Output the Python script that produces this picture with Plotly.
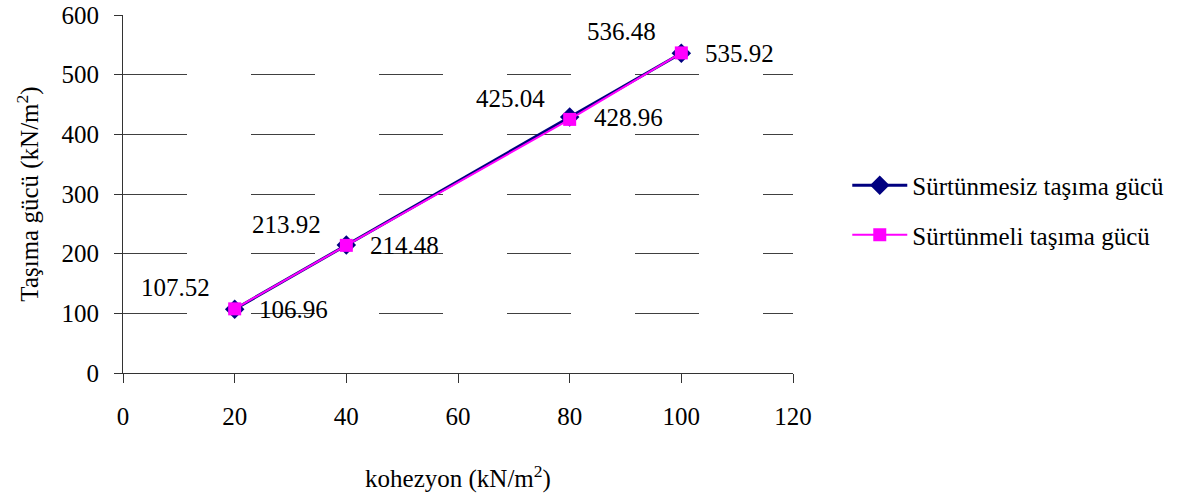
import plotly.graph_objects as go

# Cohesion values (kN/m2)
kohezyon = [20, 40, 80, 100]
# Bearing capacity without friction (kN/m2)
surtunmesiz = [106.96, 214.48, 428.96, 535.92]
# Bearing capacity with friction (kN/m2)
surtunmeli = [107.52, 213.92, 425.04, 536.48]

x_ticks = [0, 20, 40, 60, 80, 100, 120]
y_ticks = [0, 100, 200, 300, 400, 500, 600]

FONT = "Liberation Serif"
NAVY = "#000080"
MAGENTA = "#FF00FF"

fig = go.Figure()

fig.add_trace(go.Scatter(
    x=kohezyon, y=surtunmesiz, mode="lines+markers",
    name="Sürtünmesiz taşıma gücü", legendgroup="a",
    line=dict(color=NAVY, width=3),
    marker=dict(symbol="diamond", size=15, color=NAVY),
))
fig.add_trace(go.Scatter(
    x=kohezyon, y=surtunmeli, mode="lines+markers",
    name="Sürtünmeli taşıma gücü", legendgroup="b",
    line=dict(color=MAGENTA, width=2),
    marker=dict(symbol="square", size=13, color=MAGENTA),
))

# value labels: frictionless to the right, with friction up-left
for xv, yv in zip(kohezyon, surtunmesiz):
    fig.add_annotation(x=xv, y=yv, text=f"{yv:.2f}", showarrow=False,
                       xanchor="left", yanchor="middle", xshift=22, yshift=0,
                       font=dict(family=FONT, size=25, color="black"))
for xv, yv in zip(kohezyon, surtunmeli):
    fig.add_annotation(x=xv, y=yv, text=f"{yv:.2f}", showarrow=False,
                       xanchor="right", yanchor="middle", xshift=-23, yshift=21,
                       font=dict(family=FONT, size=25, color="black"))

fig.update_layout(
    width=1200, height=499,
    margin=dict(l=123, r=407, t=15, b=126, autoexpand=False),
    paper_bgcolor="white", plot_bgcolor="white",
    font=dict(family=FONT, size=25, color="black"),
    showlegend=True,
    legend=dict(x=1.081, y=0.455, xanchor="left", yanchor="middle",
                itemwidth=55,
                font=dict(family=FONT, size=25, color="black"),
                tracegroupgap=14, bgcolor="rgba(0,0,0,0)"),
)

fig.update_xaxes(
    range=[0, 120], tickvals=x_ticks, ticktext=[str(v) for v in x_ticks],
    showgrid=False, zeroline=False, automargin=False,
    showline=True, linecolor="#333333", linewidth=1,
    ticks="outside", ticklen=9, tickcolor="#333333", tickwidth=1,
    ticklabelstandoff=12,
    tickfont=dict(family=FONT, size=25),
    title=dict(text="kohezyon (kN/m<sup>2</sup>)", standoff=40,
               font=dict(family=FONT, size=25)),
)
fig.update_yaxes(
    range=[0, 600], tickvals=y_ticks, ticktext=[str(v) for v in y_ticks],
    showgrid=True, gridcolor="#404040", gridwidth=1, griddash="64px,64px",
    zeroline=False, automargin=False,
    showline=True, linecolor="#333333", linewidth=1,
    ticks="outside", ticklen=8, tickcolor="#333333", tickwidth=1,
    ticklabelstandoff=10,
    tickfont=dict(family=FONT, size=25),
    title=dict(text="Taşıma gücü (kN/m<sup>2</sup>)", standoff=15,
               font=dict(family=FONT, size=25)),
)

fig.write_html("out.html")
